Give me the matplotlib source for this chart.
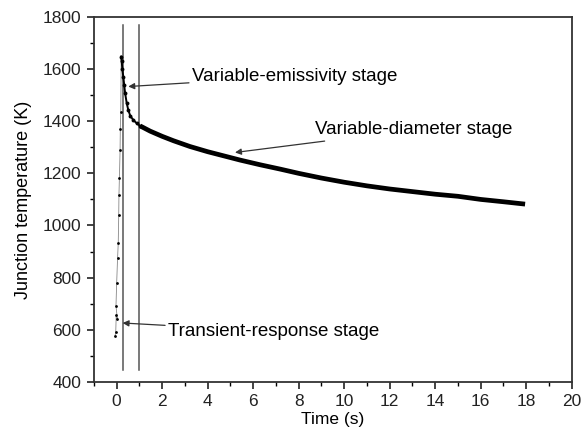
import matplotlib.pyplot as plt

plt.rcParams['font.family'] = ['Liberation Sans', 'DejaVu Sans']

# transient-response stage: sparse samples while the junction heats up
rise_t = [-0.07, -0.04, -0.02, 0.03, -0.03, 0.00, 0.04, 0.07, 0.09, 0.10, 0.12, 0.15, 0.16, 0.18, 0.20]
rise_T = [576, 593, 657, 640, 692, 780, 875, 934, 1040, 1117, 1182, 1290, 1370, 1437, 1648]

# variable-emissivity stage: fast drop after the peak
drop_t = [0.20, 0.22, 0.25, 0.29, 0.33, 0.37, 0.44, 0.51, 0.60, 0.73, 0.88, 1.03]
drop_T = [1648, 1630, 1600, 1571, 1540, 1508, 1470, 1443, 1420, 1405, 1392, 1382]

# variable-diameter stage: slow decay
slow_t = [1.03, 1.47, 2.0, 2.5, 3.22, 4.0, 4.8, 5.42, 6.3, 7.2, 8.0, 9.0, 10.0,
          11.0, 12.0, 13.0, 14.0, 15.0, 16.0, 17.0, 17.95]
slow_T = [1382, 1362, 1342, 1325, 1303, 1283, 1265, 1251, 1233, 1216, 1200, 1182, 1166,
          1152, 1140, 1130, 1120, 1112, 1100, 1091, 1082]

stage_lines = [0.3, 1.0]

fig = plt.figure(figsize=(5.87, 4.34), dpi=100)
ax = fig.add_axes([0.160, 0.120, 0.814, 0.841])

ax.plot(rise_t, rise_T, color='#888888', lw=0.6, zorder=2)
ax.plot(rise_t, rise_T, 'o', color='black', ms=2.0, mec='none', zorder=3)
ax.plot(drop_t, drop_T, color='black', lw=1.4, zorder=3)
ax.plot(drop_t, drop_T, 'o', color='black', ms=2.8, mec='none', zorder=3)
ax.plot(slow_t, slow_T, color='black', lw=3.4, solid_capstyle='butt', zorder=3)

for x in stage_lines:
    ax.plot([x, x], [445, 1770], color='#555555', lw=1.1, zorder=1)

arrow = dict(arrowstyle='-|>', color='#333333', lw=0.9, mutation_scale=9, shrinkA=0, shrinkB=0)
ax.annotate('Variable-emissivity stage', xy=(0.51, 1533), xytext=(3.3, 1572),
            fontsize=13.5, va='center', ha='left', arrowprops=arrow)
ax.annotate('Variable-diameter stage', xy=(5.2, 1280), xytext=(8.7, 1367),
            fontsize=13.5, va='center', ha='left', arrowprops=arrow)
ax.annotate('Transient-response stage', xy=(0.26, 626), xytext=(2.25, 594),
            fontsize=13.5, va='center', ha='left', arrowprops=arrow)

ax.set_xlim(-1, 20)
ax.set_ylim(400, 1800)
ax.set_xticks(range(0, 21, 2))
ax.set_xticks(range(-1, 21, 2), minor=True)
ax.set_yticks(range(400, 1801, 200))
ax.set_yticks(range(500, 1800, 200), minor=True)
ax.tick_params(which='major', direction='out', length=5, width=1.2, labelsize=12.5, colors='#222222', pad=4)
ax.tick_params(which='minor', direction='out', length=3, width=1.0)
for s in ax.spines.values():
    s.set_linewidth(1.3)
    s.set_color('#333333')

ax.set_xlabel('Time (s)', fontsize=12.5, labelpad=2)
ax.set_ylabel('Junction temperature (K)', fontsize=13, labelpad=8)

fig.savefig('out.png', dpi=100)
